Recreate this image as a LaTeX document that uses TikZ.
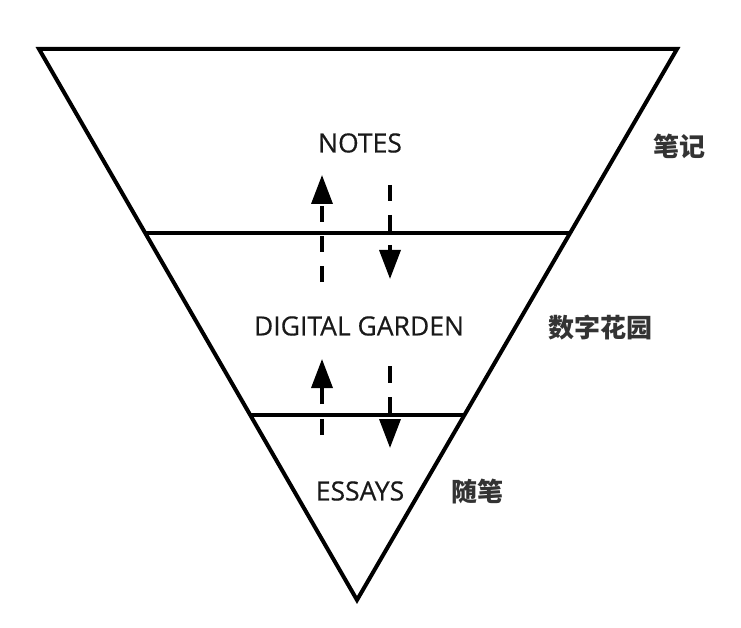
\documentclass[tikz,border=0pt]{standalone}
\usepackage{fontspec}
\setmainfont{Open Sans}[FakeBold=0.4]
\newfontfamily\cjk{Noto Sans CJK SC}
\usetikzlibrary{arrows.meta}
\definecolor{cjkgray}{HTML}{333333}
\tikzset{
  frame/.style={line width=4pt, line join=miter, black},
  divider/.style={line width=4pt, black},
  flow/.style={line width=3.5pt, dash pattern=on 16pt off 14pt, -{Triangle[length=29pt,width=21pt]}},
  lvl/.style={font=\fontsize{26.5}{29}\selectfont, inner sep=0pt, text=black!90},
  side/.style={font=\cjk\bfseries\fontsize{26}{28}\selectfont, inner sep=0pt, text=cjkgray}
}
\begin{document}
\begin{tikzpicture}[x=1pt,y=-1pt]
\useasboundingbox (0,0) rectangle (741,628);
% triangle corners
\coordinate (tl) at (39,49);
\coordinate (tr) at (677,49);
\coordinate (bt) at (357,600);
\draw[frame] (tl) -- (tr) -- (bt) -- cycle;
% dividers
\coordinate (d1l) at (145,233);
\coordinate (d1r) at (569,233);
\coordinate (d2l) at (251,415);
\coordinate (d2r) at (463,415);
\draw[divider] (d1l) -- (d1r);
\draw[divider] (d2l) -- (d2r);
% labels
\node[lvl] (notes) at (360,143) {NOTES};
\node[lvl] (garden) at (359,326) {DIGITAL GARDEN};
\node[lvl] (essays) at (360,491) {ESSAYS};
\node[side] (bj) at (679,146) {笔记};
\node[side] (szhy) at (600,328) {数字花园};
\node[side] (sb) at (477,491) {随笔};
% arrows
\coordinate (u1s) at (322,282);
\coordinate (u1e) at (322,175);
\coordinate (d1s) at (390,185);
\coordinate (d1e) at (390,279);
\coordinate (u2s) at (322,435);
\coordinate (u2e) at (322,359);
\coordinate (d2s) at (390,366);
\coordinate (d2e) at (390,448);
\draw[flow] (u1s) -- (u1e);
\draw[flow] (d1s) -- (d1e);
\draw[flow, dash pattern=on 16pt off 15pt] (u2s) -- (u2e);
\draw[flow, dash pattern=on 17pt off 14pt] (d2s) -- (d2e);
\end{tikzpicture}
\end{document}
